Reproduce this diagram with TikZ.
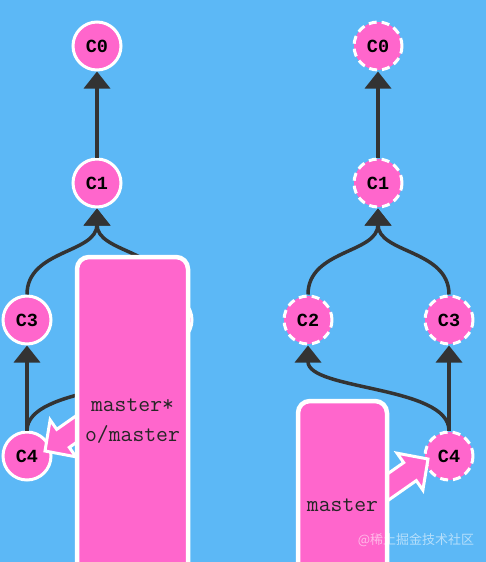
\documentclass[tikz,border=0pt]{standalone}
\usepackage{fontspec}
\newfontfamily\cmono{Liberation Mono}
\newfontfamily\cjk{Noto Sans CJK SC}
\usetikzlibrary{arrows.meta}
\definecolor{bg}{HTML}{5CB8F6}
\definecolor{cpink}{HTML}{FF66CC}
\definecolor{edgec}{HTML}{333333}
\newcommand\fatarrow[2]{%
  \begin{scope}[shift={(#1)},rotate=#2]
    \draw[fatarr] (0,0) -- (-22,22.5) -- (-22,11) -- (-95,11) -- (-95,-11) -- (-22,-11) -- (-22,-22.5) -- cycle;
  \end{scope}}
\begin{document}
\begin{tikzpicture}[x=1pt,y=1pt,
  commit/.style={circle,fill=cpink,draw=white,line width=3pt,minimum size=48pt,inner sep=0pt,
    font=\cmono\bfseries\fontsize{18.5}{19}\selectfont},
  dcommit/.style={commit,dash pattern=on 8pt off 5pt},
  link/.style={draw=edgec,line width=3.5pt,-{Triangle[length=17pt,width=26pt]}},
  brbox/.style={fill=cpink,draw=white,line width=4.5pt,rounded corners=12pt},
  brtext/.style={font=\ttfamily\fontsize{23}{30}\selectfont,align=center,inner sep=0pt,text=black!85},
  fatarr/.style={fill=cpink,draw=white,line width=3pt,line join=miter}]
\useasboundingbox (0,0) rectangle (486,-562);
\clip (0,0) rectangle (486,-562);
\fill[bg] (0,0) rectangle (486,-562);

% left tree
\node[commit] (lc0) at (97,-46) {C0};
\node[commit] (lc1) at (97,-183) {C1};
\node[commit] (lc2) at (168,-320) {C2};
\node[commit] (lc3) at (27,-320) {C3};
\node[commit] (lc4) at (27,-456) {C4};
\draw[link] (lc1.north) -- (lc0.south);
\draw[link] (lc3.north) .. controls +(0,45) and +(0,-45) .. (lc1.south);
\draw[link] (lc2.north) .. controls +(0,45) and +(0,-45) .. (lc1.south);
\draw[link] (lc4.north) -- (lc3.south);
\draw[link] (lc4.north) .. controls +(0,45) and +(0,-45) .. (lc2.south);

% right tree
\node[dcommit] (rc0) at (378,-46) {C0};
\node[dcommit] (rc1) at (378,-183) {C1};
\node[dcommit] (rc2) at (308,-320) {C2};
\node[dcommit] (rc3) at (449,-320) {C3};
\node[dcommit] (rc4) at (449,-456) {C4};
\draw[link] (rc1.north) -- (rc0.south);
\draw[link] (rc2.north) .. controls +(0,45) and +(0,-45) .. (rc1.south);
\draw[link] (rc3.north) .. controls +(0,45) and +(0,-45) .. (rc1.south);
\draw[link] (rc4.north) -- (rc3.south);
\draw[link] (rc4.north) .. controls +(0,45) and +(0,-45) .. (rc2.south);

% branch pointers
\fatarrow{45,-451}{215}
\fatarrow{428,-459}{35}

\draw[brbox] (77,-257) rectangle (188,-600);
\node[brtext] (lbr) at (132.5,-421) {master*\\o/master};
\draw[brbox] (298,-401) rectangle (387,-600);
\node[brtext] (rbr) at (342.5,-505) {master};

\node[font=\cjk\fontsize{13}{13}\selectfont,text=white,opacity=0.55,inner sep=0pt] (wm) at (416,-540) {@稀土掘金技术社区};
\end{tikzpicture}
\end{document}
